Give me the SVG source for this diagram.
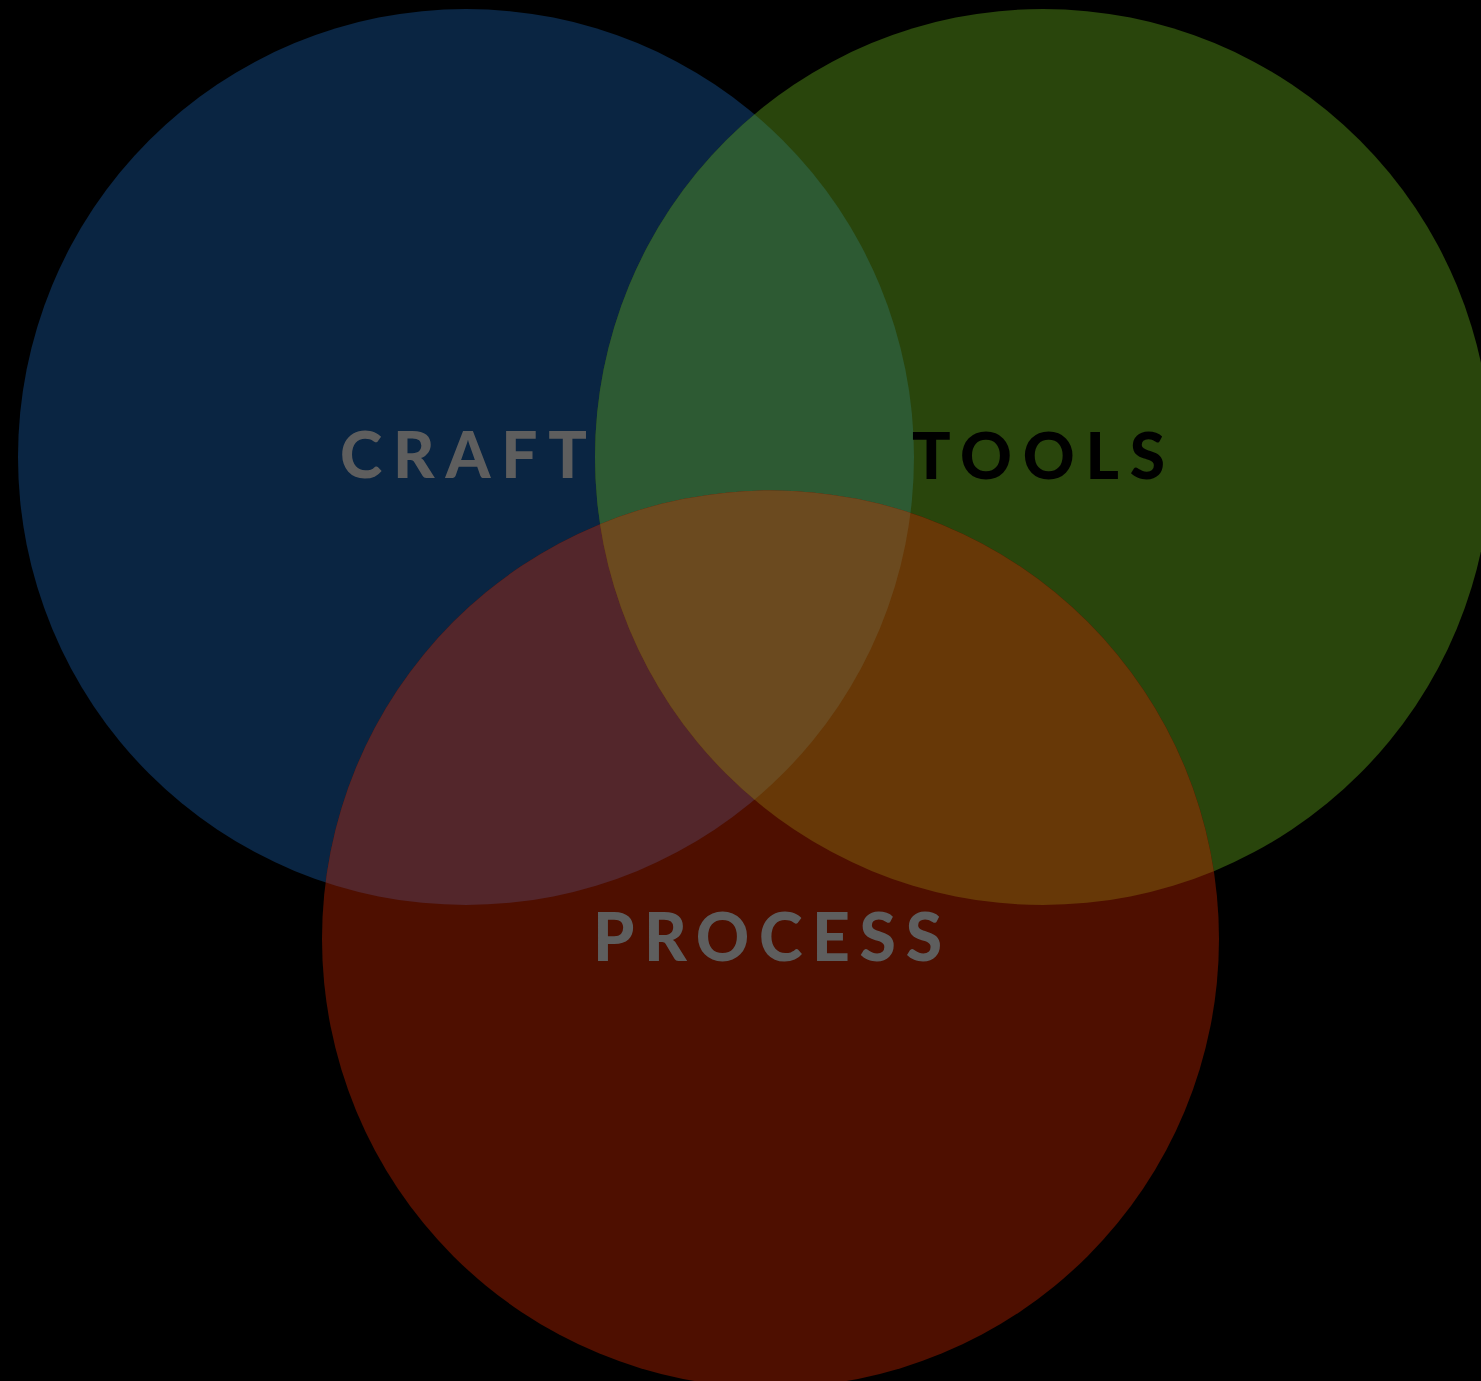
<svg xmlns="http://www.w3.org/2000/svg" width="1481" height="1381" viewBox="0 0 1481 1381">
<style>
.lbl{font-family:"Lato","Liberation Sans",sans-serif;font-weight:900;font-size:64px;}
.big{font-size:66px;}
.gray{fill:#5e5e5e;}
.blk{fill:#000000;}
</style>
<defs>
<clipPath id="cB"><circle cx="466" cy="457" r="448"/></clipPath>
<clipPath id="cG"><circle cx="1043" cy="457" r="448"/></clipPath>
<clipPath id="cR"><circle cx="770.5" cy="939" r="448.5"/></clipPath>
</defs>
<rect x="0" y="0" width="1481" height="1381" fill="#000000"/>
<g id="craft">
<circle cx="466" cy="457" r="448" fill="#0a2542"/>
</g>
<g id="tools">
<circle cx="1043" cy="457" r="448" fill="#29450c"/>
</g>
<g id="process">
<circle cx="770.5" cy="939" r="448.5" fill="#4e0f00"/>
</g>
<g id="overlaps">
<circle cx="1043" cy="457" r="448" fill="#2d5a33" clip-path="url(#cB)"/>
<circle cx="770.5" cy="939" r="448.5" fill="#53262b" clip-path="url(#cB)"/>
<circle cx="770.5" cy="939" r="448.5" fill="#673807" clip-path="url(#cG)"/>
<g clip-path="url(#cB)"><circle cx="770.5" cy="939" r="448.5" fill="#6b4a1f" clip-path="url(#cG)"/></g>
</g>
<g id="labels">
<text class="lbl gray" x="340" y="478" textLength="247" lengthAdjust="spacing">CRAFT</text>
<text class="lbl blk" x="912" y="479" textLength="253" lengthAdjust="spacing">TOOLS</text>
<text class="lbl big gray" x="593" y="961" textLength="349" lengthAdjust="spacing">PROCESS</text>
</g>
</svg>
